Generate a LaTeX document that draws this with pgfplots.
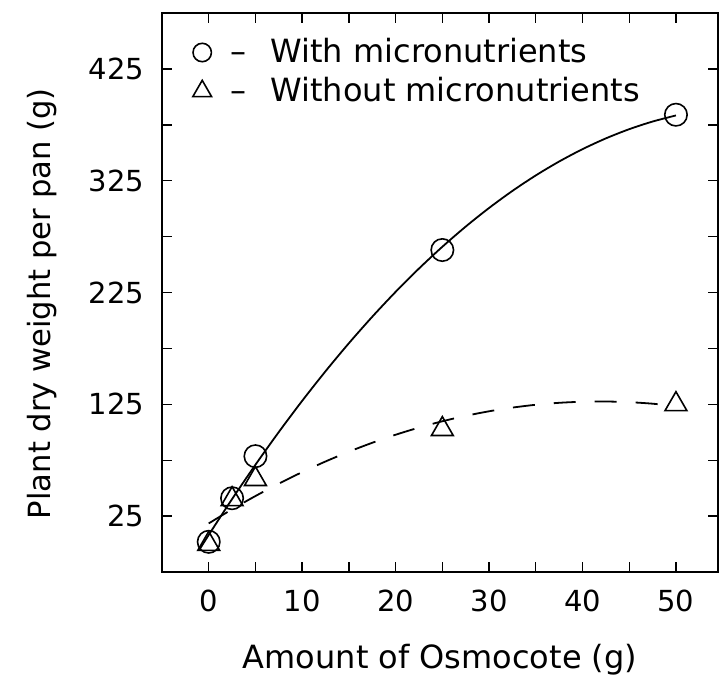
\documentclass[border=0pt]{standalone}
\usepackage{fontspec}
\setmainfont{DejaVu Sans}
\usepackage{pgfplots}
\pgfplotsset{compat=1.18}
\begin{document}
\fontsize{14.5}{17}\selectfont
\begin{tikzpicture}
\begin{axis}[
  scale only axis, width=278pt, height=279.5pt,
  xmin=-5, xmax=54.5, ymin=-25, ymax=475,
  xtick={0,10,...,50}, minor xtick={-5,5,...,50},
  ytick={25,125,...,425}, minor ytick={-25,75,...,475},
  tick align=inside, major tick length=5pt, minor tick length=5pt,
  tick style={line width=0.7pt, black},
  axis line style={line width=1pt},
  /pgf/number format/assume math mode=true,
  ticklabel style={font=\fontsize{14.5}{17}\selectfont},
  xticklabel style={yshift=-4pt},
  yticklabel style={xshift=-4pt},
  xlabel={Amount of Osmocote (g)},
  ylabel={Plant dry weight per pan (g)},
  xlabel style={font=\fontsize{16}{19}\selectfont, yshift=-6pt},
  ylabel style={font=\fontsize{15.3}{18}\selectfont, at={(ticklabel cs:0.48)}},
  ylabel shift=6pt,
  legend style={draw=none, fill=none, at={(0.044,0.97)}, anchor=north west,
    font=\fontsize{16}{19}\selectfont, row sep=1pt},
  legend cell align=left,
]
\addlegendimage{only marks, mark=o, mark size=4.6pt, mark options={line width=0.8pt}}
\addlegendentry{\hspace*{7.5pt}\textendash\hspace{12pt}With micronutrients}
\addlegendimage{only marks, mark=triangle, mark size=5.4pt, mark options={line width=0.8pt}}
\addlegendentry{\hspace*{7.5pt}\textendash\hspace{12pt}Without micronutrients}
\addplot[forget plot, only marks, mark=o, mark size=5.6pt, mark options={line width=0.8pt}]
  coordinates {(0,2) (2.5,41) (5,78.6) (25,263) (50,384)};
\addplot[forget plot, only marks, mark=triangle, mark size=6.3pt, mark options={line width=0.8pt}]
  coordinates {(0,0) (2.5,40) (5,58) (25,102.7) (50,125)};
\addplot[forget plot, line width=0.9pt, smooth] coordinates {
(-1,-5.07) (0,8.16) (2.5,40.25) (5,70.93) (7.5,100.21) (10,128.09) (12.5,154.57)
(15,179.64) (17.5,203.30) (20,225.57) (22.5,246.44) (25,265.90) (27.5,283.95)
(30,300.61) (32.5,315.87) (35,329.72) (37.5,342.16) (40,353.21) (42.5,362.85)
(45,371.09) (47.5,377.92) (50,383.36)};
\addplot[forget plot, line width=0.9pt, smooth, dash pattern=on 11pt off 9.5pt] coordinates {
(0,18.46) (2.5,31.09) (5,42.95) (7.5,54.03) (10,64.34) (12.5,73.86) (15,82.61)
(17.5,90.58) (20,97.77) (22.5,104.18) (25,109.82) (27.5,114.68) (30,118.75)
(32.5,122.06) (35,124.58) (37.5,126.33) (40,127.30) (42.5,127.50) (45,126.90)
(47.5,125.54) (50,123.40)};
\end{axis}
\pgfresetboundingbox
\path (current axis.south west) ++(-81pt,-56.5pt) coordinate (bl);
\path (current axis.north east) ++(4.5pt,6.5pt) coordinate (tr);
\path[use as bounding box] (bl) rectangle (tr);
\end{tikzpicture}
\end{document}
